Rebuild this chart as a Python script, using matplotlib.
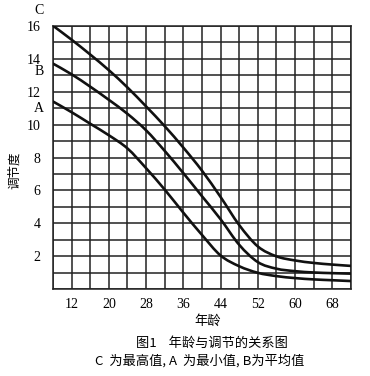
import matplotlib
matplotlib.use('Agg')
import matplotlib.pyplot as plt
from matplotlib.path import Path
from matplotlib.patches import PathPatch

plt.rcParams['font.family'] = ['Liberation Serif', 'Noto Sans CJK SC']

# 读图得到的曲线数据 (年龄, 调节度)
ages = [8, 12, 16, 20, 24, 28, 32, 36, 40, 44, 48, 52, 56, 60, 64, 68, 72]
amp_C = [16, 15.15, 14.25, 13.3, 12.25, 11.1, 9.9, 8.6, 7.2, 5.6, 3.9, 2.6, 2.0, 1.75, 1.6, 1.5, 1.42]
amp_B = [13.7, 13.05, 12.3, 11.5, 10.65, 9.65, 8.4, 7.05, 5.65, 4.25, 2.7, 1.65, 1.25, 1.1, 1.02, 0.98, 0.95]
amp_A = [11.4, 10.75, 10.05, 9.35, 8.55, 7.35, 6.05, 4.65, 3.3, 2.05, 1.4, 1.0, 0.8, 0.68, 0.6, 0.55, 0.5]

x_ticks = [12, 20, 28, 36, 44, 52, 60, 68]
y_ticks = [2, 4, 6, 8, 10, 12, 14, 16]
curve_names = ['A', 'B', 'C']
name_y = [11, 13.2, 16.9]


def smooth_path(xs, ys):
    # Catmull-Rom 曲线转为贝塞尔路径, 只用于平滑画线
    pts = list(zip(xs, ys))
    verts = [pts[0]]
    codes = [Path.MOVETO]
    n = len(pts)
    for i in range(n - 1):
        p0 = pts[i - 1] if i > 0 else pts[i]
        p1, p2 = pts[i], pts[i + 1]
        p3 = pts[i + 2] if i + 2 < n else pts[i + 1]
        c1 = (p1[0] + (p2[0] - p0[0]) / 6, p1[1] + (p2[1] - p0[1]) / 6)
        c2 = (p2[0] - (p3[0] - p1[0]) / 6, p2[1] - (p3[1] - p1[1]) / 6)
        verts += [c1, c2, p2]
        codes += [Path.CURVE4] * 3
    return Path(verts, codes)


fig = plt.figure(figsize=(3.7, 3.76), dpi=100)
ax = fig.add_axes([0.1432, 0.2306, 0.8054, 0.701])

for ys in [amp_C, amp_B, amp_A]:
    ax.add_patch(PathPatch(smooth_path(ages, ys), facecolor='none',
                           edgecolor='#111111', lw=1.9, capstyle='round', zorder=3))

ax.set_xlim(8, 72)
ax.set_ylim(0, 16)
ax.set_xticks(x_ticks)
ax.set_yticks(y_ticks)
ax.set_xticks(range(8, 73, 4), minor=True)
ax.set_yticks(range(0, 17), minor=True)
ax.grid(which='both', color='#222222', lw=1.1)
ax.tick_params(which='both', length=0, labelsize=10)
ax.tick_params(axis='x', pad=6)
ax.tick_params(axis='y', pad=9)
for sp in ax.spines.values():
    sp.set_color('#222222')
    sp.set_linewidth(1.1)

tr = ax.get_yaxis_transform()
for nm, yv in zip(curve_names, name_y):
    ax.text(-0.047, yv, nm, transform=tr, ha='center', va='center',
            fontsize=10, clip_on=False)

cjk = ['Noto Sans CJK SC', 'DejaVu Sans']
fig.text(15 / 370, 1 - 170 / 376, '调节度', rotation=90, ha='center', va='center',
         fontsize=9, family=cjk)
fig.text(208 / 370, 1 - 321 / 376, '年龄', ha='center', va='center',
         fontsize=9.5, family=cjk)
fig.text(212 / 370, 1 - 343 / 376, '图1    年龄与调节的关系图', ha='center', va='center',
         fontsize=9.5, family=cjk)
fig.text(200 / 370, 1 - 361 / 376, 'C  为最高值, A  为最小值, B为平均值', ha='center',
         va='center', fontsize=9.5, family=cjk)

fig.savefig('out.png', dpi=100, facecolor='white')
